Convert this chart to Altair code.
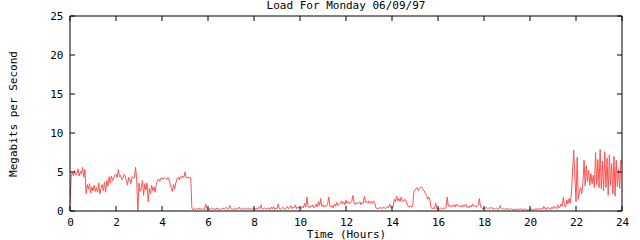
import altair as alt
import pandas as pd

load_h00 = [0.8, 4.4, 4.9, 4.5, 5.2, 4.6, 4.8, 5.4, 4.5, 5.1, 4.7, 5.6, 4.3, 5.3, 2.2, 3.4, 2.8, 3.5, 2.3, 3.1]
load_h01 = [2.6, 3.3, 2.5, 3.0, 2.4, 3.6, 2.2, 2.9, 3.4, 2.6, 3.7, 2.4, 3.9, 3.2, 4.4, 3.6, 4.5, 3.9, 4.2, 4.6]
load_h02 = [4.7, 4.3, 5.3, 4.4, 4.6, 4.0, 4.2, 4.7, 4.5, 3.9, 3.3, 4.3, 4.1, 3.5, 4.4, 4.2, 4.3, 5.6, 4.0, 0.0]
load_h03 = [3.6, 2.5, 3.0, 3.9, 2.0, 3.5, 2.7, 3.6, 1.2, 2.9, 2.2, 3.3, 2.6, 3.1, 2.4, 3.4, 3.9, 4.1, 3.8, 4.2]
load_h04 = [4.2, 4.1, 4.3, 4.2, 4.0, 4.3, 4.1, 3.5, 3.0, 2.5, 3.4, 2.8, 3.6, 4.1, 4.3, 4.0, 4.4, 4.2, 4.5, 4.3]
load_h05 = [5.0, 4.3, 4.2, 4.4, 4.2, 4.3, 0.3, 0.2, 0.3, 0.2, 0.3, 0.2, 0.4, 0.2, 0.3, 0.2, 0.3, 0.2, 0.9, 0.3]
load_h06 = [0.2, 0.3, 0.2, 0.4, 0.3, 0.2, 0.3, 0.2, 0.4, 0.2, 0.3, 0.2, 0.3, 0.4, 0.2, 0.3, 0.5, 0.2, 0.3, 0.7]
load_h07 = [0.3, 0.2, 0.3, 0.2, 0.4, 0.2, 0.3, 0.5, 0.2, 0.3, 0.2, 0.4, 0.3, 0.2, 0.3, 0.4, 0.2, 0.3, 0.2, 0.3]
load_h08 = [0.3, 0.2, 0.4, 0.2, 0.5, 0.3, 0.8, 0.3, 0.2, 0.4, 0.3, 0.2, 0.4, 0.3, 0.2, 0.5, 0.3, 0.6, 0.2, 0.4]
load_h09 = [0.3, 0.9, 0.4, 0.2, 0.3, 0.5, 0.3, 0.2, 0.4, 0.6, 0.3, 0.4, 0.7, 0.3, 0.5, 0.4, 0.8, 0.3, 0.5, 0.4]
load_h10 = [0.5, 0.3, 0.6, 0.4, 1.0, 0.5, 1.8, 0.6, 0.4, 0.7, 0.5, 0.8, 0.4, 0.6, 0.9, 0.5, 1.2, 0.7, 1.6, 0.6]
load_h11 = [0.8, 0.5, 0.7, 0.6, 0.9, 1.8, 0.6, 0.5, 0.7, 0.4, 0.9, 0.6, 1.1, 0.7, 0.8, 1.0, 1.3, 0.9, 1.2, 0.8]
load_h12 = [1.4, 1.0, 1.2, 0.9, 1.1, 1.3, 2.0, 1.0, 0.8, 1.1, 0.9, 1.0, 1.2, 0.8, 1.1, 1.0, 1.9, 1.1, 1.2, 1.0]
load_h13 = [1.3, 1.0, 1.2, 0.9, 1.3, 1.1, 0.4, 0.3, 0.4, 0.3, 0.5, 0.3, 0.4, 0.5, 0.3, 0.4, 0.6, 0.4, 0.9, 0.5]
load_h14 = [0.4, 0.6, 1.5, 1.2, 1.9, 1.3, 1.6, 1.2, 1.8, 1.3, 1.2, 1.5, 1.4, 0.9, 0.6, 0.5, 0.7, 0.5, 0.6, 2.4]
load_h15 = [2.7, 2.9, 3.0, 2.6, 2.9, 3.1, 3.0, 2.7, 2.6, 2.2, 2.0, 1.5, 1.8, 1.4, 0.4, 0.3, 0.4, 0.3, 1.0, 0.3]
load_h16 = [0.3, 0.2, 0.4, 0.3, 0.2, 0.4, 0.3, 0.5, 1.8, 0.6, 0.8, 0.5, 0.7, 0.6, 0.8, 0.5, 0.9, 0.6, 0.7, 0.5]
load_h17 = [0.7, 0.5, 0.8, 0.6, 0.9, 0.5, 0.6, 0.4, 0.7, 0.5, 0.9, 0.6, 0.7, 0.5, 0.6, 0.8, 1.6, 0.5, 0.4, 0.3]
load_h18 = [0.4, 0.3, 0.5, 0.3, 0.4, 0.3, 0.5, 0.3, 0.4, 0.2, 0.3, 0.4, 0.2, 0.3, 0.7, 0.3, 0.2, 0.3, 0.2, 0.3]
load_h19 = [0.3, 0.2, 0.3, 0.2, 0.3, 0.2, 0.1, 0.3, 0.2, 0.1, 0.3, 0.2, 0.3, 0.2, 0.1, 0.3, 0.2, 0.2, 0.1, 0.2]
load_h20 = [0.2, 0.3, 0.2, 0.1, 0.3, 0.2, 0.3, 0.2, 0.3, 0.2, 0.4, 0.2, 0.6, 0.3, 0.2, 0.5, 0.3, 0.4, 0.2, 0.5]
load_h21 = [0.3, 0.6, 0.4, 0.3, 0.8, 0.4, 0.5, 0.9, 0.6, 1.8, 0.7, 0.5, 1.4, 0.9, 1.6, 1.0, 2.2, 5.0, 7.8, 4.5]
load_h22 = [1.2, 6.9, 1.5, 2.4, 3.0, 2.2, 3.5, 6.5, 3.2, 5.8, 3.8, 5.2, 3.3, 4.8, 3.5, 4.6, 3.0, 7.5, 3.4, 6.6]
load_h23 = [3.0, 7.9, 2.8, 6.4, 2.6, 7.6, 3.0, 6.8, 2.0, 7.2, 3.3, 6.1, 2.2, 7.0, 1.9, 6.5, 3.1, 5.4, 2.9, 6.5]
load_end = [6.0]

x_ticks = [0, 2, 4, 6, 8, 10, 12, 14, 16, 18, 20, 22, 24]
y_ticks = [0, 5, 10, 15, 20, 25]
title_text = ["Load For Monday 06/09/97"]

loads = (load_h00 + load_h01 + load_h02 + load_h03 + load_h04 + load_h05 +
         load_h06 + load_h07 + load_h08 + load_h09 + load_h10 + load_h11 +
         load_h12 + load_h13 + load_h14 + load_h15 + load_h16 + load_h17 +
         load_h18 + load_h19 + load_h20 + load_h21 + load_h22 + load_h23 +
         load_end)
hours = [i / 20 for i in range(len(loads))]
df = pd.DataFrame({"hour": hours, "load": loads})
xt = pd.DataFrame({"t": x_ticks})
yt = pd.DataFrame({"t": y_ticks})
one = pd.DataFrame({"k": [0]})
tdf = pd.DataFrame({"txt": title_text})

W, H = 552, 195
FONT = "DejaVu Sans Mono"
FS = 11

xscale = alt.Scale(domain=[0, 24], nice=False, zero=False)
yscale = alt.Scale(domain=[0, 25], nice=False)

xaxis = alt.Axis(values=x_ticks, ticks=False, domain=False, grid=False,
                 labelFont=FONT, labelFontSize=FS, labelColor="black",
                 labelPadding=5, title="Time (Hours)", titleFont=FONT,
                 titleFontSize=FS, titleFontWeight="normal", titleColor="black",
                 titlePadding=1, labelFlush=False, labelOverlap=False)
yaxis = alt.Axis(values=y_ticks, ticks=False, domain=False, grid=False,
                 labelFont=FONT, labelFontSize=FS, labelColor="black",
                 labelPadding=7, title="Megabits per Second", titleFont=FONT,
                 titleFontSize=FS, titleFontWeight="normal", titleColor="black",
                 titleX=-57, titleY=H / 2, titleAngle=270, titleAlign="center",
                 titleBaseline="middle", labelFlush=False, labelOverlap=False)

line = alt.Chart(df).mark_line(color="#ff5252", strokeWidth=1, clip=True).encode(
    x=alt.X("hour:Q", scale=xscale, axis=xaxis, title="Time (Hours)"),
    y=alt.Y("load:Q", scale=yscale, axis=yaxis, title="Megabits per Second"),
)

TL = 5
bottom_ticks = alt.Chart(xt).mark_rule(color="black").encode(
    x=alt.X("t:Q", scale=xscale, axis=xaxis, title="Time (Hours)"),
    y=alt.value(H), y2=alt.value(H - TL))
top_ticks = alt.Chart(xt).mark_rule(color="black").encode(
    x=alt.X("t:Q", scale=xscale, axis=xaxis, title="Time (Hours)"),
    y=alt.value(0), y2=alt.value(TL))
left_ticks = alt.Chart(yt).mark_rule(color="black").encode(
    y=alt.Y("t:Q", scale=yscale, axis=yaxis, title="Megabits per Second"),
    x=alt.value(0), x2=alt.value(TL))
right_ticks = alt.Chart(yt).mark_rule(color="black").encode(
    y=alt.Y("t:Q", scale=yscale, axis=yaxis, title="Megabits per Second"),
    x=alt.value(W), x2=alt.value(W - TL))

fr_top = alt.Chart(one).mark_rule(color="black").encode(
    x=alt.value(0), x2=alt.value(W), y=alt.value(0))
fr_bot = alt.Chart(one).mark_rule(color="black").encode(
    x=alt.value(0), x2=alt.value(W), y=alt.value(H))
fr_left = alt.Chart(one).mark_rule(color="black").encode(
    y=alt.value(0), y2=alt.value(H), x=alt.value(0))
fr_right = alt.Chart(one).mark_rule(color="black").encode(
    y=alt.value(0), y2=alt.value(H), x=alt.value(W))

title = alt.Chart(tdf).mark_text(font=FONT, fontSize=FS, color="black",
                                  align="center", baseline="middle").encode(
    text="txt:N", x=alt.value(W / 2), y=alt.value(-10))

chart = alt.layer(line, bottom_ticks, top_ticks, left_ticks, right_ticks,
                  fr_top, fr_bot, fr_left, fr_right, title).properties(
    width=W, height=H,
    autosize=alt.AutoSizeParams(type="none"),
    padding={"left": 70, "top": 16, "right": 18, "bottom": 29},
    background="white",
).configure_view(stroke=None)

chart.save("out.html", embed_options={"renderer": "svg", "actions": False})
